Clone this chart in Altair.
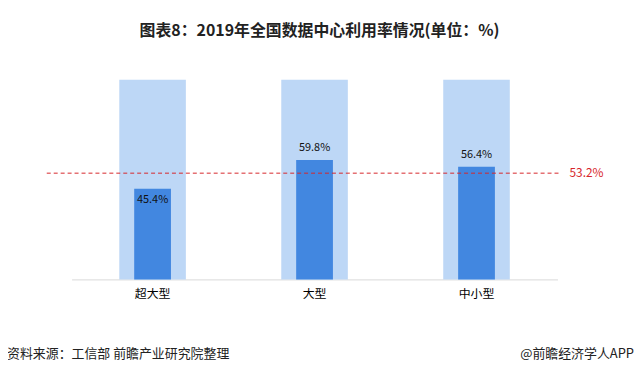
import altair as alt
import pandas as pd

categories = ["超大型", "大型", "中小型"]
values = [45.4, 59.8, 56.4]
background = [100, 100, 100]
labels = ["45.4%", "59.8%", "56.4%"]
label_inside = [True, False, False]
average = 53.2
average_label = "53.2%"
title_text = "图表8：2019年全国数据中心利用率情况(单位：%)"
source_text = "资料来源：工信部 前瞻产业研究院整理"
brand_text = "@前瞻经济学人APP"

FONT = "Noto Sans CJK SC"

df = pd.DataFrame({
    "cat": categories,
    "value": values,
    "bg": background,
    "label": labels,
    "inside": label_inside,
})

x = alt.X("cat:N", sort=categories, title=None,
          scale=alt.Scale(paddingInner=0, paddingOuter=0),
          axis=alt.Axis(labelAngle=0, ticks=False, domainColor="#d9d9d9",
                        labelFontSize=12, labelColor="#000000", labelFont=FONT,
                        labelPadding=9))
yscale = alt.Scale(domain=[0, 100])

base = alt.Chart(df)

bg_bars = base.mark_bar(size=67, color="#bdd7f6").encode(
    x=x, y=alt.Y("bg:Q", scale=yscale, axis=None))
fg_bars = base.mark_bar(size=37, color="#4287e0").encode(
    x=x, y=alt.Y("value:Q", scale=yscale, axis=None))

lab_in = base.transform_filter("datum.inside").mark_text(
    baseline="top", dy=5, fontSize=11, font=FONT, color="#111111").encode(
    x=x, y=alt.Y("value:Q", scale=yscale), text="label:N")
lab_out = base.transform_filter("!datum.inside").mark_text(
    baseline="bottom", dy=-7, fontSize=11, font=FONT, color="#111111").encode(
    x=x, y=alt.Y("value:Q", scale=yscale), text="label:N")

avg_df = pd.DataFrame({"avg": [average], "label": [average_label]})
avg_rule = alt.Chart(avg_df).mark_rule(
    color="#d7262b", strokeDash=[4, 3], strokeWidth=1).encode(
    y=alt.Y("avg:Q", scale=yscale), x=alt.value(-25), x2=alt.value(493))
avg_text = alt.Chart(avg_df).mark_text(
    align="left", baseline="middle", fontSize=12, font=FONT, color="#d7262b").encode(
    y=alt.Y("avg:Q", scale=yscale), x=alt.value(501), text="label:N")

foot_df = pd.DataFrame({"src": [source_text], "brand": [brand_text]})
src = alt.Chart(foot_df).mark_text(
    align="left", baseline="middle", fontSize=13, font=FONT, color="#222222").encode(
    x=alt.value(-65), y=alt.value(276), text="src:N")
brand = alt.Chart(foot_df).mark_text(
    align="right", baseline="middle", fontSize=13, font=FONT, color="#222222").encode(
    x=alt.value(566), y=alt.value(276), text="brand:N")

chart = alt.layer(bg_bars, fg_bars, lab_in, lab_out, avg_rule, avg_text, src, brand).properties(
    width=489, height=201,
    background="#ffffff",
    autosize=alt.AutoSizeParams(type="none"),
    padding={"left": 64, "top": 71, "right": 79, "bottom": 88},
    title=alt.TitleParams(title_text, anchor="middle", fontSize=16, fontWeight="bold",
                          font=FONT, color="#222222", offset=41, dx=5),
).configure_view(strokeWidth=0)

chart.save("out.html", embed_options={"renderer": "svg", "actions": False})
